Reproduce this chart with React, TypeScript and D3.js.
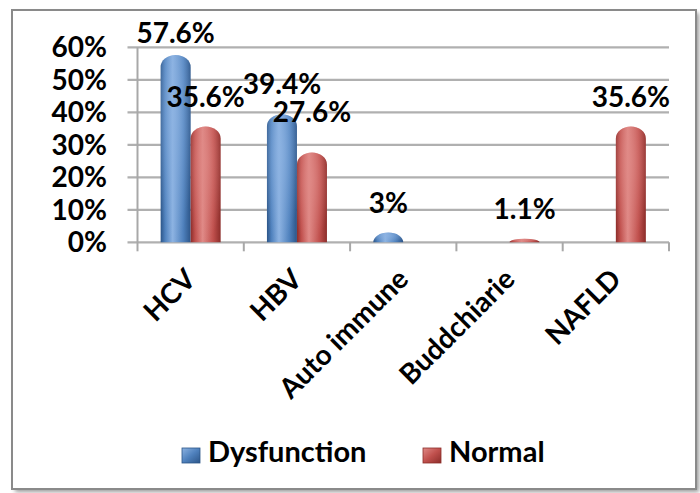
import React from "react";
import * as d3 from "d3";

const categories = ["HCV", "HBV", "Auto immune", "Buddchiarie", "NAFLD"];
const seriesNames = ["Dysfunction", "Normal"];
const dysfunction: (number | null)[] = [57.6, 39.4, 3, null, null];
const normal: (number | null)[] = [35.6, 27.6, null, 1.1, 35.6];
const dysfunctionLabels = ["57.6%", "39.4%", "3%", "", ""];
const normalLabels = ["35.6%", "27.6%", "", "1.1%", "35.6%"];
const yTicks = [0, 10, 20, 30, 40, 50, 60];

// layout (not data)
const W = 700, H = 493;
const plotLeft = 137.5, plotRight = 669, plotTop = 47.3, plotBottom = 242.3;
const barW = 30;
const defaultLift = 20;
const liftOverride: Record<string, number> = { "0-0": 12, "1-1": 31 };
const FONT = "Lato, 'Open Sans', sans-serif";

const colors = [
  { dark: "#2c5588", mid: "#4f81bd", light: "#8db3e2" },
  { dark: "#8c2d2a", mid: "#c0504d", light: "#e08a87" },
];

export default function App() {
  const x = d3.scaleBand<string>().domain(categories).range([plotLeft, plotRight]).padding(0);
  const y = d3.scaleLinear().domain([0, 60]).range([plotBottom, plotTop]);
  const series = [dysfunction, normal];
  const labels = [dysfunctionLabels, normalLabels];

  const barPath = (x0: number, v: number) => {
    const top = y(v);
    const bottom = y(0);
    const h = bottom - top;
    const rx = barW / 2;
    const ry = Math.min(12, h);
    return `M${x0},${bottom} L${x0},${top + ry} A${rx},${ry} 0 0 1 ${x0 + barW},${top + ry} L${x0 + barW},${bottom} Z`;
  };

  return (
    <svg width={W} height={H} style={{ position: "absolute", left: 0, top: 0 }} fontFamily={FONT}>
      <defs>
        {colors.map((c, i) => (
          <linearGradient key={i} id={`g${i}`} x1="0" x2="1" y1="0" y2="0">
            <stop offset="0" stopColor={c.dark} />
            <stop offset="0.15" stopColor={c.mid} />
            <stop offset="0.4" stopColor={c.light} />
            <stop offset="0.75" stopColor={c.mid} />
            <stop offset="1" stopColor={c.dark} />
          </linearGradient>
        ))}
        {colors.map((c, i) => (
          <radialGradient key={i} id={`cap${i}`} cx="0.45" cy="0.3" r="0.7">
            <stop offset="0" stopColor={c.light} stopOpacity={0.7} />
            <stop offset="1" stopColor={c.light} stopOpacity={0} />
          </radialGradient>
        ))}
        {colors.map((c, i) => (
          <linearGradient key={i} id={`lg${i}`} x1="0" x2="1" y1="0" y2="1">
            <stop offset="0" stopColor={c.light} />
            <stop offset="0.5" stopColor={c.mid} />
            <stop offset="1" stopColor={c.dark} />
          </linearGradient>
        ))}
        <filter id="shadow" x="-5%" y="-5%" width="110%" height="110%">
          <feGaussianBlur stdDeviation="2" />
        </filter>
      </defs>

      {/* frame */}
      <rect x={15} y={13} width={684} height={479} fill="#9a9a9a" filter="url(#shadow)" />
      <rect x={12} y={10} width={684} height={479} fill="#fff" stroke="#8a8a8a" strokeWidth={2} />

      {/* gridlines */}
      {yTicks.map((t) => (
        <line key={t} x1={plotLeft - 10} x2={plotRight} y1={y(t)} y2={y(t)} stroke="#b0b0b0" strokeWidth={2.2} />
      ))}
      {/* y axis */}
      <line x1={plotLeft} x2={plotLeft} y1={plotTop} y2={plotBottom + 9} stroke="#a8a8a8" strokeWidth={2} />
      {/* x ticks */}
      {categories.map((c) => (
        <line key={c} x1={x(c)! + x.bandwidth()} x2={x(c)! + x.bandwidth()} y1={plotBottom} y2={plotBottom + 9} stroke="#a8a8a8" strokeWidth={2} />
      ))}

      {/* y tick labels */}
      {yTicks.map((t) => (
        <text key={t} x={107} y={y(t)} dy="0.36em" textAnchor="end" fontSize={28} fontWeight="bold" fill="#000">
          {t}%
        </text>
      ))}

      {/* bars */}
      {series.map((s, si) =>
        s.map((v, ci) => {
          if (v == null) return null;
          const cx = x(categories[ci])! + x.bandwidth() / 2;
          const x0 = si === 0 ? cx - barW : cx;
          return (
            <g key={`${si}-${ci}`}>
              <path d={barPath(x0, v)} fill={`url(#g${si})`} />
              <path d={barPath(x0, v)} fill={`url(#cap${si})`} />
            </g>
          );
        })
      )}

      {/* value labels */}
      {series.map((s, si) =>
        s.map((v, ci) => {
          if (v == null) return null;
          const cx = x(categories[ci])! + x.bandwidth() / 2;
          const lx = si === 0 ? cx - barW / 2 : cx + barW / 2;
          const lift = liftOverride[`${ci}-${si}`] ?? defaultLift;
          return (
            <text key={`l${si}-${ci}`} x={lx} y={y(v) - lift} textAnchor="middle" fontSize={28} fontWeight="bold" fill="#000">
              {labels[si][ci]}
            </text>
          );
        })
      )}

      {/* category labels */}
      {categories.map((c) => {
        const cx = x(c)! + x.bandwidth() / 2;
        const ly = 274;
        return (
          <text key={c} x={cx} y={ly} dy="0.35em" textAnchor="end" fontSize={28} fontWeight="bold" fill="#000" transform={`rotate(-45 ${cx} ${ly})`}>
            {c}
          </text>
        );
      })}

      {/* legend */}
      {seriesNames.map((n, i) => {
        const lx = i === 0 ? 182 : 423;
        return (
          <g key={n}>
            <rect x={lx} y={448} width={18} height={15} fill={`url(#lg${i})`} stroke={colors[i].dark} strokeWidth={0.8} />
            <text x={lx + 26} y={462} fontSize={29} fontWeight="bold" fill="#000">
              {n}
            </text>
          </g>
        );
      })}
    </svg>
  );
}
